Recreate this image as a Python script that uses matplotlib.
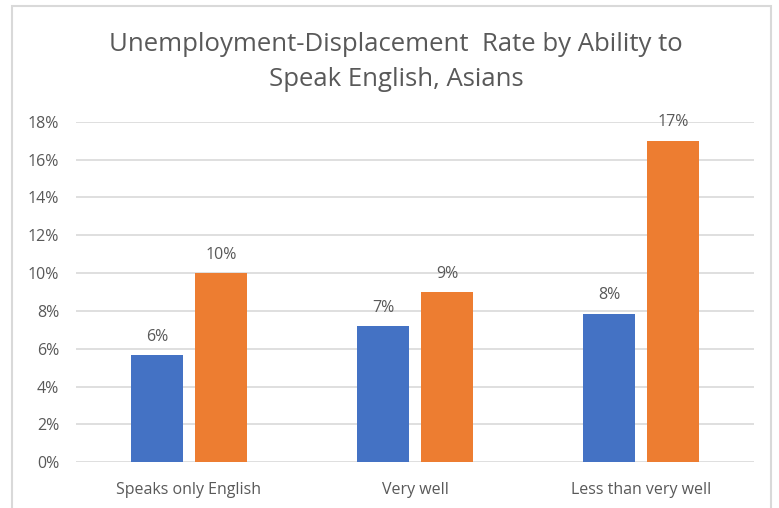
import matplotlib
matplotlib.use('Agg')
import matplotlib.pyplot as plt
from matplotlib.patches import Rectangle
import numpy as np

categories = ['Speaks only English', 'Very well', 'Less than very well']
blue_vals = [5.65, 7.2, 7.85]
orange_vals = [10.0, 9.0, 17.0]
blue_labels = ['6%', '7%', '8%']
orange_labels = ['10%', '9%', '17%']
ytick_vals = [0, 2, 4, 6, 8, 10, 12, 14, 16, 18]

plt.rcParams['font.family'] = ['Open Sans', 'DejaVu Sans']
txt_color = '#595959'

fig = plt.figure(figsize=(7.79, 5.08), dpi=100)
# outer chart border
fig.patches.append(Rectangle((12 / 779, -0.02), 759 / 779, 1 - 6 / 508 + 0.02,
                             transform=fig.transFigure, fill=False,
                             edgecolor='#D9D9D9', linewidth=1.5))

ax = fig.add_axes([76 / 779, (508 - 462.3) / 508, 678 / 779, 340.6 / 508])

x = np.arange(len(categories))
w = 0.2257
off = 0.1416
b1 = ax.bar(x - off, blue_vals, w, color='#4472C4', zorder=3)
b2 = ax.bar(x + off, orange_vals, w, color='#ED7D31', zorder=3)

for bars, labels in [(b1, blue_labels), (b2, orange_labels)]:
    for bar, lab in zip(bars, labels):
        ax.annotate(lab, (bar.get_x() + bar.get_width() / 2, bar.get_height()),
                    xytext=(0, 7.5), textcoords='offset points',
                    ha='center', va='bottom', fontsize=11.5, color=txt_color)

ax.set_xlim(-0.5, 2.5)
ax.set_ylim(0, 18)
ax.set_yticks(ytick_vals)
ax.set_yticklabels([f'{v}%' for v in ytick_vals])
ax.set_xticks(x)
ax.set_xticklabels(categories)
ax.tick_params(axis='both', length=0, labelsize=11.5, colors=txt_color)
ax.tick_params(axis='y', pad=12)
ax.tick_params(axis='x', pad=14)
ax.yaxis.grid(True, color='#D9D9D9', linewidth=1.2, zorder=0)
for s in ax.spines.values():
    s.set_visible(False)

fig.text(396 / 779, 1 - 62 / 508,
         'Unemployment-Displacement  Rate by Ability to\nSpeak English, Asians',
         ha='center', va='center', fontsize=18.5, color=txt_color, linespacing=1.5)

fig.savefig('out.png', dpi=100)
